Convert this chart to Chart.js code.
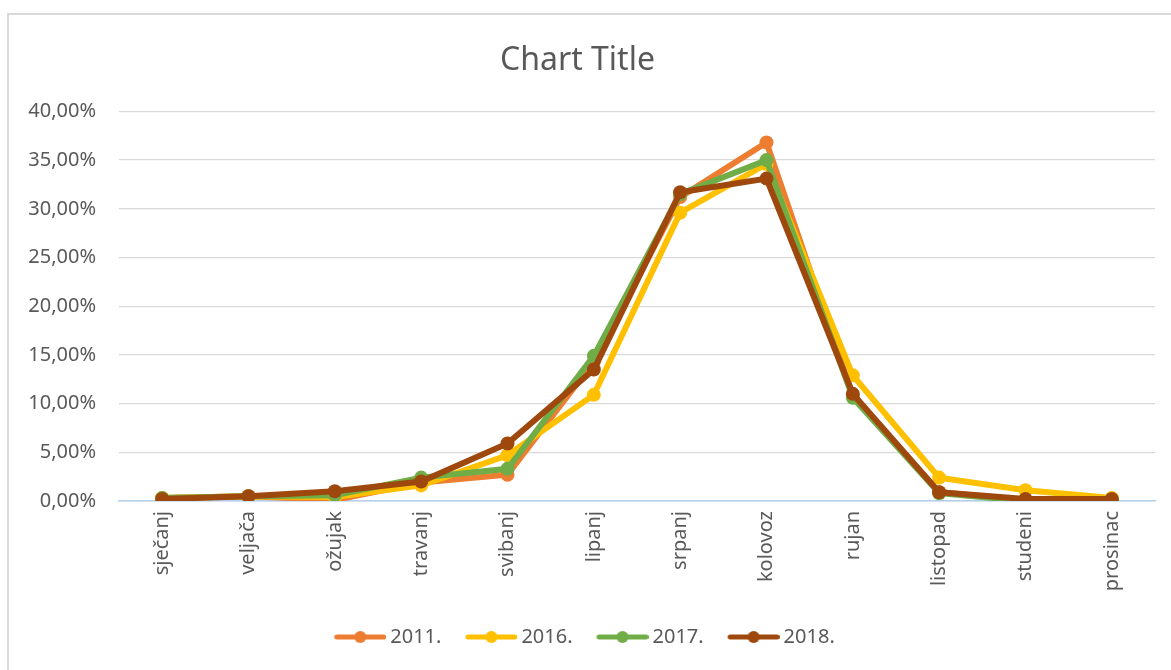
<!DOCTYPE html>
<html>
<head>
<meta charset="utf-8">
<script src="https://cdn.jsdelivr.net/npm/chart.js@4/dist/chart.umd.min.js"></script>
<style>
  body { margin: 0; background: #fff; overflow: hidden; }
  #wrap { position: relative; width: 1171px; height: 670px; }
  #frame { position: absolute; left: 7px; top: 13px; width: 1200px; height: 700px;
           border-left: 2px solid #d9d9d9; border-top: 2px solid #d9d9d9; pointer-events: none; }
</style>
</head>
<body>
<div id="wrap">
  <canvas id="myChart" width="1171" height="670"></canvas>
  <div id="frame"></div>
</div>
<script>
// chart data (percent)
var months = ["sječanj", "veljača", "ožujak", "travanj", "svibanj", "lipanj", "srpanj", "kolovoz", "rujan", "listopad", "studeni", "prosinac"];
var years = ["2011.", "2016.", "2017.", "2018."];
var y2011 = [0.3, 0.5, 0.1, 1.9, 2.7, 14.3, 31.2, 36.8, 10.8, 0.9, 0.1, 0.2];
var y2016 = [0.3, 0.5, 0.4, 1.6, 4.7, 10.9, 29.6, 34.6, 12.9, 2.4, 1.1, 0.3];
var y2017 = [0.3, 0.5, 0.6, 2.4, 3.3, 14.9, 31.5, 35.0, 10.6, 0.8, 0.0, 0.1];
var y2018 = [0.2, 0.5, 1.0, 2.0, 5.9, 13.5, 31.7, 33.1, 11.0, 0.9, 0.2, 0.2];
var yTicks = [0, 5, 10, 15, 20, 25, 30, 35, 40];

var colors = ["#ED7D31", "#FFC000", "#70AD47", "#9E480E"];
var series = [y2011, y2016, y2017, y2018];
var textColor = "#595959";
var fontName = "'Noto Sans', sans-serif";

// legend marker: line with a dot, drawn on a little canvas
function legendMark(color) {
  var c = document.createElement("canvas");
  c.width = 72;
  c.height = 14;
  var g = c.getContext("2d");
  g.strokeStyle = color;
  g.lineWidth = 5;
  g.lineCap = "round";
  g.beginPath();
  g.moveTo(22.5, 7);
  g.lineTo(69.5, 7);
  g.stroke();
  g.fillStyle = color;
  g.beginPath();
  g.arc(46, 7, 6, 0, Math.PI * 2);
  g.fill();
  return c;
}

var datasets = [];
for (let i = 0; i < series.length; i++) {
  datasets.push({
    label: years[i],
    data: series[i],
    borderColor: colors[i],
    backgroundColor: colors[i],
    borderWidth: 6,
    pointRadius: 7,
    pointBorderWidth: 0,
    pointBackgroundColor: colors[i],
    tension: 0,
    order: series.length - i
  });
}

new Chart("myChart", {
  type: "line",
  data: {
    labels: months,
    datasets: datasets
  },
  options: {
    responsive: false,
    animation: false,
    layout: { padding: { left: 0, right: 16, top: 0, bottom: 13 } },
    plugins: {
      title: {
        display: true,
        text: "Chart Title",
        color: textColor,
        font: { family: fontName, size: 32, weight: "normal" },
        padding: { top: 42, bottom: 31 }
      },
      legend: {
        position: "bottom",
        labels: {
          color: textColor,
          font: { family: fontName, size: 20 },
          usePointStyle: true,
          pointStyleWidth: 60,
          boxHeight: 14,
          padding: 10,
          generateLabels: function (chart) {
            return chart.data.datasets.map(function (ds, i) {
              return {
                text: ds.label,
                fontColor: textColor,
                pointStyle: legendMark(ds.borderColor),
                fillStyle: ds.borderColor,
                strokeStyle: ds.borderColor,
                lineWidth: 0,
                datasetIndex: i
              };
            });
          },
          sort: function (a, b) { return a.datasetIndex - b.datasetIndex; }
        }
      },
      tooltip: { enabled: false }
    },
    scales: {
      x: {
        offset: true,
        grid: { display: false, drawTicks: false },
        border: { color: "#b4cfe9", width: 1.5 },
        ticks: {
          color: textColor,
          font: { family: fontName, size: 20 },
          minRotation: 90,
          maxRotation: 90,
          padding: 10,
          autoSkip: false
        },
        afterFit: function (scale) { scale.height = 116; }
      },
      y: {
        min: 0,
        max: 40,
        afterBuildTicks: function (scale) {
          scale.ticks = yTicks.map(function (v) { return { value: v }; });
        },
        grid: { color: "#d9d9d9", lineWidth: 1.3, drawTicks: false },
        border: { display: false },
        ticks: {
          color: textColor,
          font: { family: fontName, size: 20 },
          padding: 23,
          callback: function (v) { return v.toFixed(2).replace(".", ",") + "%"; }
        },
        afterFit: function (scale) { scale.width = 119; }
      }
    }
  }
});
</script>
</body>
</html>
